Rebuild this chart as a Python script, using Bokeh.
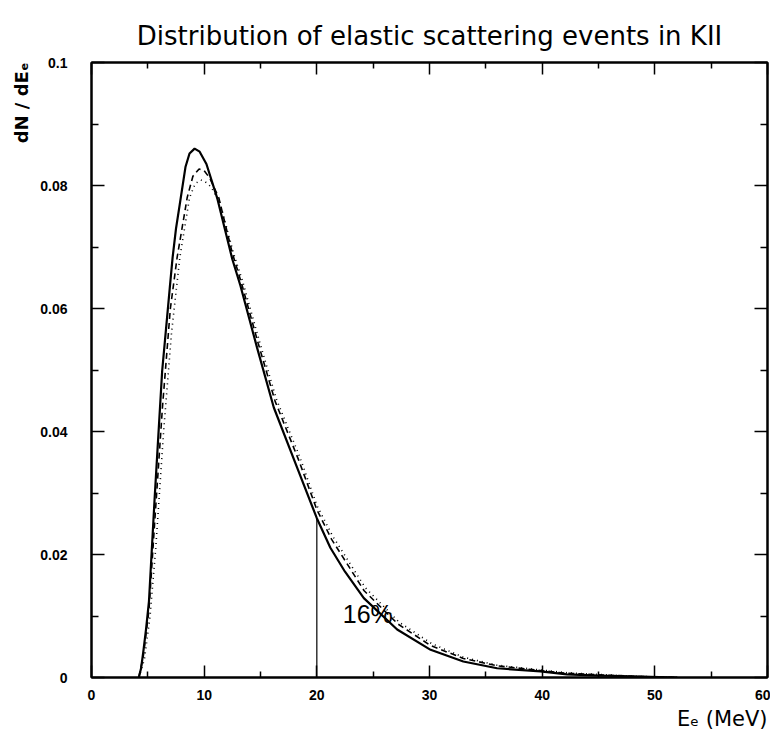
import math
from bokeh.plotting import figure
from bokeh.models import LinearAxis, FixedTicker, Label, Range1d, CustomJSTickFormatter, Title
from bokeh.embed import file_html
from bokeh.resources import INLINE

# ---- data ----
solid_x = [4.2, 4.4, 4.6, 4.85, 5.1, 5.6, 6.27, 6.95, 7.2, 7.5, 7.84, 8.34, 8.7, 9.15, 9.6, 10.2, 11.15,
           12.5, 13.22, 14.7, 16.18, 18.26, 20.0, 21.2, 22.5, 24.17, 27.13, 30.1, 33.0, 36.0, 39.85,
           42.2, 45.0, 48.0, 52.0]
solid_y = [0.0, 0.0015, 0.0042, 0.0080, 0.0124, 0.0290, 0.0498, 0.0634, 0.0683, 0.0730, 0.0770, 0.0830,
           0.0852, 0.0860, 0.0855, 0.0835, 0.0780, 0.0680, 0.0637, 0.0536, 0.0439, 0.0341, 0.0259,
           0.0211, 0.0172, 0.0129, 0.0078, 0.0045, 0.0026, 0.0015, 0.0010, 0.0005, 0.0003, 0.0002, 0.0]

dashed_x = [4.2, 4.6, 5.1, 5.6, 6.3, 7.0, 7.6, 8.5, 9.0, 9.55, 10.0, 10.5, 11.3, 12.5, 13.3, 14.8, 16.3,
            18.4, 20.0, 21.3, 24.2, 27.2, 30.1, 33.0, 36.0, 40.0, 42.0, 48.0, 52.0]
dashed_y = [0.0, 0.0035, 0.0110, 0.0250, 0.0440, 0.0600, 0.0683, 0.0781, 0.0815, 0.0827, 0.0824, 0.0812,
            0.0780, 0.0690, 0.0642, 0.0543, 0.0449, 0.0353, 0.0273, 0.0225, 0.0141, 0.0087, 0.0052,
            0.0031, 0.0019, 0.0011, 0.0007, 0.0002, 0.0]

dotted_x = [4.2, 4.7, 5.2, 5.7, 6.4, 7.1, 7.84, 8.7, 9.2, 9.7, 10.1, 10.6, 11.4, 12.6, 13.4, 14.9, 16.4,
            18.5, 20.0, 21.4, 24.3, 27.3, 30.2, 33.0, 36.0, 40.0, 42.0, 48.0, 52.0]
dotted_y = [0.0, 0.0030, 0.0100, 0.0210, 0.0400, 0.0560, 0.0683, 0.0780, 0.0803, 0.0809, 0.0806, 0.0798,
            0.0772, 0.0690, 0.0645, 0.0547, 0.0453, 0.0358, 0.0280, 0.0230, 0.0146, 0.0090, 0.0055,
            0.0033, 0.0020, 0.0012, 0.0008, 0.0002, 0.0]

cut_x = [20.0, 20.0]
cut_y = [0.0, 0.0259]

x_major = [0, 10, 20, 30, 40, 50, 60]
x_minor = [5, 15, 25, 35, 45, 55]
y_major = [0, 0.02, 0.04, 0.06, 0.08, 0.1]
y_minor = [0.01, 0.03, 0.05, 0.07, 0.09]
y_labels = {0: "0", 0.02: "0.02", 0.04: "0.04", 0.06: "0.06", 0.08: "0.08", 0.1: "0.1"}

title_text = "Distribution of elastic scattering events in KII"
ylabel_text = "dN / dE\u2091"
xlabel_text = "E\u2091 (MeV)"
pct_text = "16%"

# ---- figure ----
p = figure(width=770, height=735, x_range=Range1d(0, 60), y_range=Range1d(0, 0.1),
           output_backend="svg", toolbar_location=None,
           min_border_left=91, min_border_right=3, min_border_top=62, min_border_bottom=58,
           x_axis_type=None, y_axis_type=None, title=title_text)
p.grid.visible = False
p.outline_line_color = "black"
p.outline_line_width = 2
p.background_fill_color = "white"
p.border_fill_color = "white"
p.title.text_font = "DejaVu Sans"
p.title.text_font_size = "26px"
p.title.text_font_style = "normal"
p.title.text_color = "black"
p.title.align = "center"
p.title.standoff = 24

FONT = "Liberation Sans"
blank = CustomJSTickFormatter(code="return ''")


def style_axis(ax, ticks, minors, major_len, minor_len, show_labels):
    ax.ticker = FixedTicker(ticks=ticks, minor_ticks=minors)
    ax.axis_line_color = "black"
    ax.axis_line_width = 2
    ax.major_tick_in = major_len
    ax.major_tick_out = 0
    ax.minor_tick_in = minor_len
    ax.minor_tick_out = 0
    ax.major_tick_line_width = 1.5
    ax.minor_tick_line_width = 1.5
    ax.major_tick_line_color = "black"
    ax.minor_tick_line_color = "black"
    if show_labels:
        ax.major_label_text_font = FONT
        ax.major_label_text_font_size = "14px"
        ax.major_label_text_font_style = "bold"
        ax.major_label_text_color = "black"
    else:
        ax.formatter = blank
        ax.major_label_standoff = 0


xb = LinearAxis()
style_axis(xb, x_major, x_minor, 12, 6, True)
xb.major_label_standoff = 12
p.add_layout(xb, "below")

xt = LinearAxis()
style_axis(xt, x_major, x_minor, 12, 6, False)
p.add_layout(xt, "above")

yl = LinearAxis()
style_axis(yl, y_major, y_minor, 13, 7, True)
yl.major_label_overrides = y_labels
yl.major_label_standoff = 24
p.add_layout(yl, "left")

yr = LinearAxis()
style_axis(yr, y_major, y_minor, 13, 7, False)
p.add_layout(yr, "right")

# axis labels as titles (right/top aligned like the reference)
xlab = Title(text=xlabel_text, align="right", text_font="DejaVu Sans", text_font_size="21px",
             text_font_style="normal", text_color="black", standoff=5)
p.add_layout(xlab, "below")
ylab = Title(text=ylabel_text, align="right", text_font="DejaVu Sans", text_font_size="18px",
             text_font_style="bold", text_color="black", standoff=12)
p.add_layout(ylab, "left")

# ---- curves ----
p.line(dotted_x, dotted_y, line_color="black", line_width=1.6, line_dash="1 4")
p.line(dashed_x, dashed_y, line_color="black", line_width=1.6, line_dash="6 4")
p.line(solid_x, solid_y, line_color="black", line_width=2.2)
p.line(cut_x, cut_y, line_color="black", line_width=1.2)

# ---- texts ----
p.add_layout(Label(x=22.3, y=0.0103, text=pct_text, text_font=FONT, text_font_size="25px",
                   text_color="black", text_align="left", text_baseline="middle"))

open("out.html", "w").write(file_html(p, INLINE))
